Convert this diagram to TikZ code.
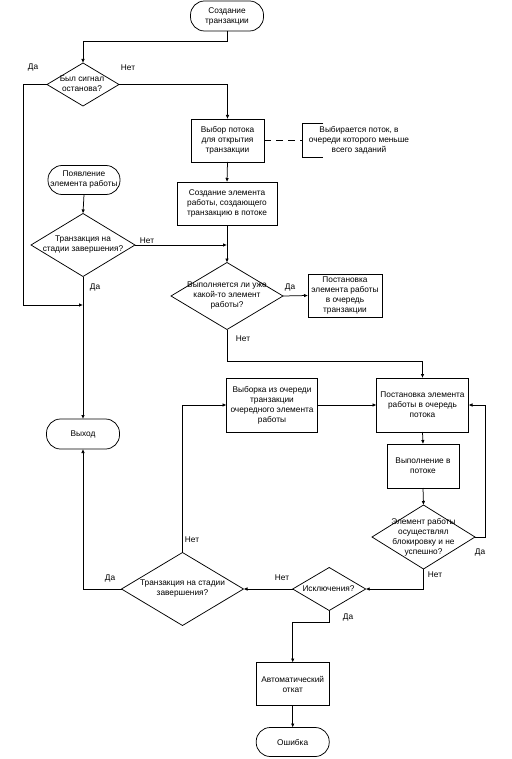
\documentclass[tikz,border=0pt]{standalone}
\usepackage{fontspec}
\setmainfont{Liberation Sans}
\usetikzlibrary{shapes.geometric,arrows.meta}
\begin{document}
\begin{tikzpicture}[x=1pt,y=-1pt,
  font=\fontsize{8.3}{10}\selectfont,
  line width=0.75pt,
  base/.style={draw, inner sep=0pt, outer sep=0pt, align=center},
  procbox/.style={base, rectangle},
  term/.style={base, rectangle, rounded corners=14pt},
  decis/.style={draw, diamond, inner sep=0pt, outer sep=0pt},
  txt/.style={inner sep=0pt, align=center},
  lbl/.style={inner sep=0pt},
  arr/.style={-{Latex[length=4pt,width=3.5pt]}}
]
\useasboundingbox (0,0) rectangle (511,759);

% terminals
\node[term, minimum width=73pt, minimum height=30pt] (start) at (227,16) {Создание\\транзакции};
\node[term, minimum width=72pt, minimum height=29pt] (app) at (84,180) {Появление\\элемента работы};
\node[term, minimum width=73pt, minimum height=30pt] (exit) at (83,434) {Выход};
\node[term, minimum width=73pt, minimum height=29pt] (err) at (292.7,742) {Ошибка};

% process boxes
\node[procbox, minimum width=73pt, minimum height=43pt] (box1) at (227.5,140.5) {Выбор потока\\для открытия\\транзакции};
\node[procbox, minimum width=100pt, minimum height=43pt] (box2) at (227,203.5) {Создание элемента\\работы, создающего\\транзакцию в потоке};
\node[procbox, minimum width=74pt, minimum height=43pt] (box3) at (345,295.5) {Постановка\\элемента работы\\в очередь\\транзакции};
\node[procbox, minimum width=92pt, minimum height=54pt] (qp) at (422.5,405) {Постановка элемента\\работы в очередь\\потока};
\node[procbox, minimum width=91pt, minimum height=54pt] (vyb) at (272,405) {Выборка из очереди\\транзакции\\очередного элемента\\работы};
\node[procbox, minimum width=72pt, minimum height=44pt] (exec) at (423,466) {Выполнение в\\потоке};
\node[procbox, minimum width=73pt, minimum height=43pt] (rb) at (292.7,684) {Автоматический\\откат};

% decisions
\node[decis, minimum width=72pt, minimum height=43pt] (d1) at (83,84.5) {};
\node[txt] (t1) at (82,84) {Был сигнал\\останова?};
\node[decis, minimum width=104pt, minimum height=63pt] (d2) at (83,245) {};
\node[txt] (t2) at (83,245) {Транзакция на\\стадии завершения?};
\node[decis, minimum width=112pt, minimum height=67pt] (d3) at (227,296) {};
\node[txt] (t3) at (227,296) {Выполняется ли уже\\какой-то элемент\\работы?};
\node[decis, minimum width=103pt, minimum height=64pt] (d4) at (423.5,537) {};
\node[txt] (t4) at (423.5,537) {Элемент работы\\осуществлял\\блокировку и не\\успешно?};
\node[decis, minimum width=73pt, minimum height=43pt] (d5) at (329.2,589) {};
\node[txt] (t5) at (328.5,588.5) {Исключения?};
\node[decis, minimum width=122pt, minimum height=73pt] (d6) at (182.5,589) {};
\node[txt] (t6) at (182.5,588.5) {Транзакция на стадии\\завершения?};

% note (annotation)
\node[inner sep=0pt, minimum width=20pt, minimum height=33pt] (notebr) at (313,140.5) {};
\draw (notebr.north east) -- (notebr.north west) -- (notebr.south west) -- (notebr.south east);
\node[txt] (note) at (359,140.5) {Выбирается поток, в\\очереди которого меньше\\всего заданий};
\draw[dash pattern=on 7pt off 5pt] (box1.east) -- (notebr.west);

% junction coordinates
\coordinate (j1) at (227,41);
\coordinate (yesL) at (23,305);
\coordinate (j2) at (422.5,361);
\coordinate (j3) at (485,537);
\coordinate (j4) at (329.2,622);

% connectors
\draw[arr] (start.south) -- (j1) -| (d1.north);
\draw[arr] (d1.west) -| (yesL) -- (yesL -| d2.south);
\draw[arr] (d1.east) -| (box1.north);
\draw[arr] (box1.south) -- (box2.north);
\draw[arr] (app.south) -- (d2.north);
\draw[arr] (d2.east) -- (d2.east -| box2.south);
\draw[arr] (box2.south) -- (d3.north);
\draw[arr] (d3.east) -- (box3.west);
\draw[arr] (d3.south) |- (j2) -- (qp.north);
\draw[arr] (d2.south) -- (exit.north);
\draw[arr] (vyb.east) -- (qp.west);
\draw[arr] (qp.south) -- (exec.north);
\draw[arr] (exec.south) -- (d4.north);
\draw[arr] (d4.east) -- (j3) |- (qp.east);
\draw[arr] (d4.south) |- (d5.east);
\draw[arr] (d5.west) -- (d6.east);
\draw[arr] (d6.west) -| (exit.south);
\draw[arr] (d6.north) |- (vyb.west);
\draw[arr] (d5.south) -- (j4) -| (rb.north);
\draw[arr] (rb.south) -- (err.north);

% branch labels
\node[lbl] (l1) at (33,67) {Да};
\node[lbl] (l2) at (128,68) {Нет};
\node[lbl] (l3) at (147,241) {Нет};
\node[lbl] (l4) at (95,287) {Да};
\node[lbl] (l5) at (290,287) {Да};
\node[lbl] (l6) at (243,339) {Нет};
\node[lbl] (l7) at (192,540) {Нет};
\node[lbl] (l8) at (110,578) {Да};
\node[lbl] (l9) at (282,578) {Нет};
\node[lbl] (l10) at (480,552) {Да};
\node[lbl] (l11) at (435,575) {Нет};
\node[lbl] (l12) at (348,617) {Да};
\end{tikzpicture}
\end{document}
